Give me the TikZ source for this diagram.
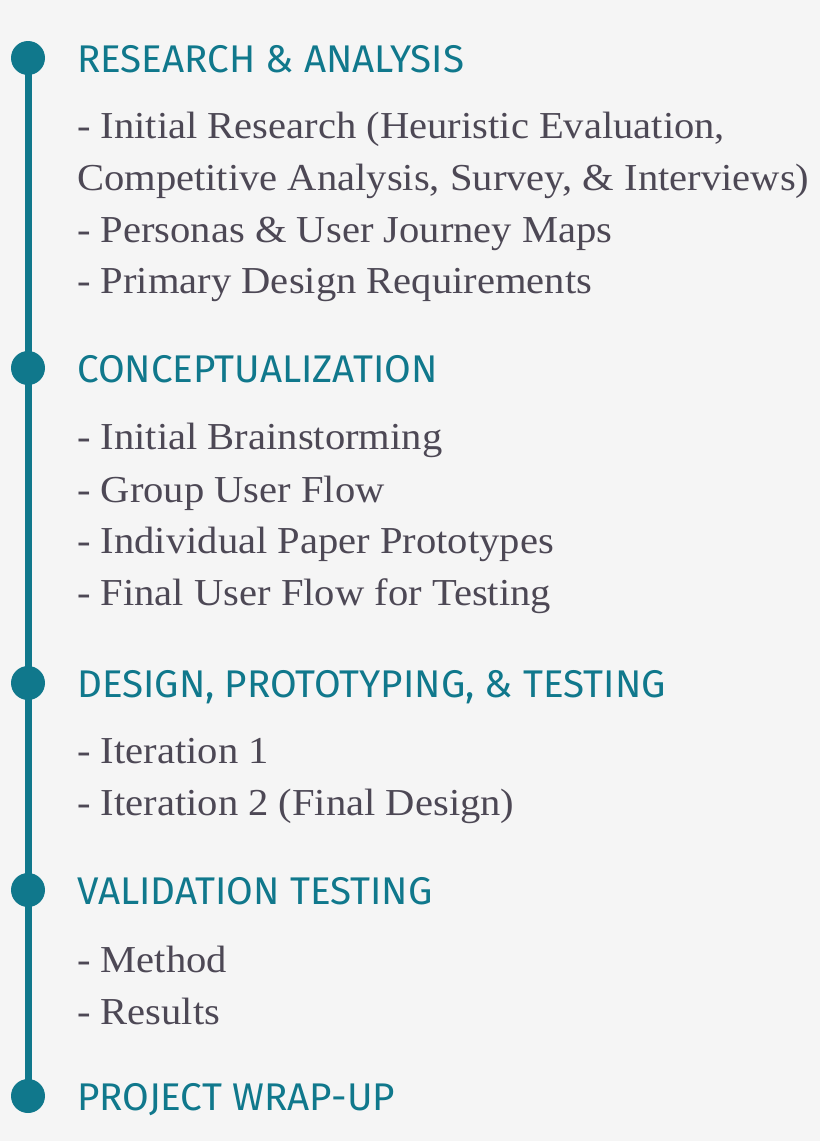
\documentclass[tikz,border=0pt]{standalone}
\usepackage{fontspec}
\setmainfont[FakeStretch=1.065]{Liberation Serif}
\newfontfamily\headfont{Fira Sans}
\usepackage{xcolor}
\definecolor{tealline}{RGB}{16,120,140}
\definecolor{bodygray}{RGB}{77,72,85}
\definecolor{pagebg}{RGB}{245,245,245}
\tikzset{
  stage/.style={circle, fill=tealline, inner sep=0pt, minimum size=34pt},
  heading/.style={anchor=base west, inner sep=0pt, text=tealline, font=\headfont\fontsize{38.6}{38.6}\selectfont},
  item/.style={anchor=base west, inner sep=0pt, text=bodygray, font=\fontsize{38.1}{38.1}\selectfont},
}

\begin{document}
\begin{tikzpicture}[x=1pt, y=-1pt]
  \fill[pagebg] (0,0) rectangle (820,1141);
  \useasboundingbox (0,0) rectangle (820,1141);
  % stages
  \foreach \n/\y/\t in {1/58/{RESEARCH \& ANALYSIS}, 2/368/{CONCEPTUALIZATION}, 3/683/{DESIGN, PROTOTYPING, \& TESTING}, 4/890/{VALIDATION TESTING}, 5/1096/{PROJECT WRAP-UP}}{
    \node[stage] (dot\n) at (28, \y) {};
    \node[heading] (head\n) at (77, \y+14) {\t};
  }
  \draw[tealline, line width=7pt] (dot1.center) -- (dot5.center);
  % items
  \foreach \i/\y/\t in {1a/138/{- Initial Research (Heuristic Evaluation,}, 1b/190/{Competitive Analysis, Survey, \& Interviews)}, 1c/242/{- Personas \& User Journey Maps}, 1d/293/{- Primary Design Requirements},
    2a/449/{- Initial Brainstorming}, 2b/502/{- Group User Flow}, 2c/553/{- Individual Paper Prototypes}, 2d/605/{- Final User Flow for Testing},
    3a/763/{- Iteration 1}, 3b/815/{- Iteration 2 (Final Design)},
    4a/972/{- Method}, 4b/1024/{- Results}}{
    \node[item] (item\i) at (77, \y) {\t};
  }
\end{tikzpicture}
\end{document}
